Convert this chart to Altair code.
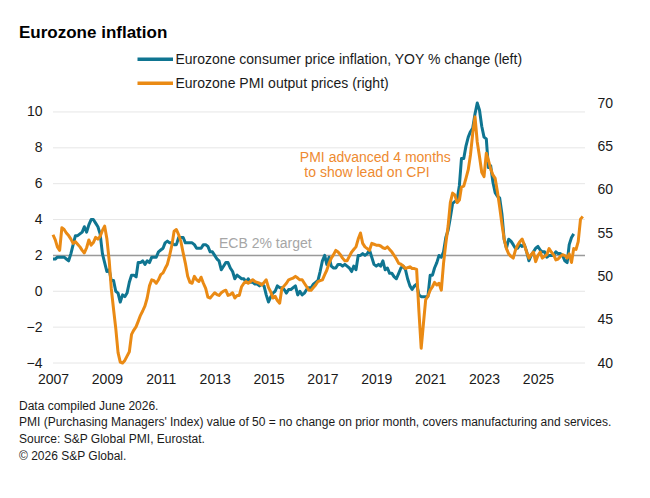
import altair as alt
import pandas as pd

# ---------------- data ----------------
cpi_label = "Eurozone consumer price inflation, YOY % change (left)"
pmi_label = "Eurozone PMI output prices (right)"

cpi_values = [
    1.8, 1.8, 1.9, 1.9, 1.9, 1.9, 1.8, 1.7, 2.1, 2.6, 3.1, 3.1,      # 2007
    3.2, 3.3, 3.6, 3.3, 3.7, 4.0, 4.0, 3.8, 3.6, 3.2, 2.1, 1.6,      # 2008
    1.1, 1.2, 0.6, 0.6, 0.0, -0.1, -0.6, -0.2, -0.3, -0.1, 0.5, 0.9, # 2009
    0.9, 0.8, 1.6, 1.6, 1.7, 1.5, 1.7, 1.6, 1.9, 1.9, 1.9, 2.2,      # 2010
    2.3, 2.4, 2.7, 2.8, 2.7, 2.7, 2.6, 2.6, 3.0, 3.0, 3.0, 2.7,      # 2011
    2.7, 2.7, 2.7, 2.6, 2.4, 2.4, 2.4, 2.6, 2.6, 2.5, 2.2, 2.2,      # 2012
    2.0, 1.8, 1.7, 1.2, 1.4, 1.6, 1.6, 1.3, 1.1, 0.7, 0.9, 0.8,      # 2013
    0.7, 0.7, 0.5, 0.7, 0.5, 0.5, 0.4, 0.4, 0.3, 0.4, 0.3, -0.2,     # 2014
    -0.6, -0.3, -0.1, 0.0, 0.3, 0.2, 0.2, 0.1, -0.1, 0.1, 0.1, 0.2,  # 2015
    0.3, -0.2, 0.0, -0.2, -0.1, 0.1, 0.2, 0.2, 0.4, 0.5, 0.6, 1.1,   # 2016
    1.7, 2.0, 1.5, 1.9, 1.4, 1.3, 1.3, 1.5, 1.5, 1.4, 1.5, 1.4,      # 2017
    1.3, 1.1, 1.4, 1.2, 2.0, 2.0, 2.1, 2.0, 2.1, 2.3, 1.9, 1.5,      # 2018
    1.4, 1.5, 1.4, 1.7, 1.2, 1.3, 1.0, 1.0, 0.8, 0.7, 1.0, 1.3,      # 2019
    1.4, 1.2, 0.7, 0.3, 0.1, 0.3, 0.4, -0.2, -0.3, -0.3, -0.3, -0.3, # 2020
    0.9, 0.9, 1.3, 1.6, 2.0, 1.9, 2.2, 3.0, 3.4, 4.1, 4.9, 5.0,      # 2021
    5.1, 5.9, 7.4, 7.4, 8.1, 8.6, 8.9, 9.1, 9.9, 10.5, 10.1, 9.2,    # 2022
    8.6, 8.5, 6.9, 7.0, 6.1, 5.5, 5.3, 5.2, 4.3, 2.9, 2.4, 2.9,      # 2023
    2.8, 2.6, 2.4, 2.4, 2.6, 2.5, 2.6, 2.2, 1.7, 2.0, 2.2, 2.4,      # 2024
    2.5, 2.3, 2.2, 2.2, 1.9, 2.0, 2.0, 2.0, 2.2, 2.1, 2.1, 2.0,      # 2025
    1.7, 1.6, 2.6, 3.0, 3.2,                                          # 2026
]

pmi_values = [
    54.8, 54.2, 53.4, 53.0, 55.6, 55.4, 55.0, 54.7, 54.3, 53.8, 54.0, 53.7,  # 2007
    53.4, 53.0, 52.7, 53.3, 54.2, 53.6, 53.9, 54.5, 54.3, 54.6, 55.3, 55.8,  # 2008
    54.3, 51.8, 48.6, 46.2, 44.0, 41.2, 40.1, 40.0, 40.3, 40.8, 41.3, 43.3,  # 2009
    43.8, 44.2, 44.8, 45.5, 46.0, 46.6, 47.5, 48.9, 49.6, 49.5, 49.2, 49.6,  # 2010
    50.2, 50.4, 50.9, 51.4, 52.4, 53.6, 55.2, 55.4, 54.8, 54.0, 52.7, 51.5,  # 2011
    50.0, 49.3, 49.2, 50.0, 49.6, 49.4, 49.9, 49.2, 48.6, 47.6, 47.5, 47.8,  # 2012
    48.1, 47.9, 47.8, 48.1, 48.3, 48.4, 47.8, 47.9, 48.1, 47.5, 47.8, 47.8,  # 2013
    48.8, 49.2, 49.4, 49.2, 49.4, 49.6, 49.4, 49.3, 49.2, 49.0, 49.3, 49.6,  # 2014
    48.7, 48.2, 47.5, 47.7, 47.2, 46.9, 48.6, 48.9, 49.2, 49.6, 49.7, 49.8,  # 2015
    50.0, 49.8, 49.6, 49.6, 49.2, 48.8, 48.4, 48.4, 48.7, 49.0, 49.4, 49.5,  # 2016
    49.6, 50.2, 50.7, 51.5, 52.1, 52.5, 53.0, 52.8, 52.5, 52.1, 51.8, 51.8,  # 2017
    52.3, 52.8, 53.1, 53.4, 54.3, 55.0, 53.8, 53.4, 53.2, 53.0, 53.8, 53.7,  # 2018
    53.6, 53.6, 53.5, 53.3, 53.2, 53.4, 53.1, 52.8, 52.4, 52.0, 51.5, 51.4,  # 2019
    51.2, 50.9, 51.0, 51.1, 50.9, 50.9, 50.8, 46.0, 41.7, 44.5, 47.3, 47.7,  # 2020
    48.4, 48.8, 49.3, 49.0, 49.2, 48.4, 51.5, 53.8, 55.8, 58.5, 59.6, 59.4,  # 2021
    58.5, 58.8, 60.3, 60.4, 61.3, 62.3, 64.0, 66.5, 68.4, 65.5, 63.8, 62.0,  # 2022
    61.5, 64.2, 63.4, 62.4, 61.7, 61.3, 59.8, 58.0, 56.0, 54.3, 53.2, 52.6,  # 2023
    52.3, 52.1, 53.0, 53.6, 54.0, 54.3, 53.6, 52.8, 52.1, 52.5, 52.8, 51.7,  # 2024
    52.4, 52.8, 52.1, 52.3, 52.5, 53.2, 52.8, 52.5, 51.9, 52.0, 52.3, 52.5,  # 2025
    52.4, 52.1, 52.6, 51.6, 53.2, 53.1, 54.0, 56.6, 56.9,                    # 2026
]

left_ticks = [-4, -2, 0, 2, 4, 6, 8, 10]
right_ticks = [40, 45, 50, 55, 60, 65, 70]
year_ticks = [2007, 2009, 2011, 2013, 2015, 2017, 2019, 2021, 2023, 2025]

title_text = "Eurozone inflation"
ecb_text = "ECB 2% target"
annot_lines = ["PMI advanced 4 months", "to show lead on CPI"]
annot_dates = ["2016-03-01T00:00:00", "2016-05-01T00:00:00"]
annot_values = [7.21, 6.35]
footnote_text = (
    "Data compiled June 2026.\n"
    "PMI (Purchasing Managers' Index) value of 50 = no change on prior month, covers manufacturing and services.\n"
    "Source: S&P Global PMI, Eurostat.\n"
    "\u00a9 2026 S&P Global."
)

# ---------------- tables ----------------
cpi_df = pd.DataFrame({
    "date": pd.date_range("2007-01-01", periods=len(cpi_values), freq="MS").strftime("%Y-%m-%dT00:00:00"),
    "value": cpi_values,
    "series": cpi_label,
})
pmi_df = pd.DataFrame({
    "date": pd.date_range("2007-01-01", periods=len(pmi_values), freq="MS").strftime("%Y-%m-%dT00:00:00"),
    "value": pmi_values,
    "series": pmi_label,
})

BLUE = "#0f7591"
ORANGE = "#ea8a14"
FONT = "Liberation Sans"
TXT = "#1a1a1a"

x_dom = [alt.DateTime(year=2007, month=1, date=1), alt.DateTime(year=2026, month=10, date=1)]
x_scale = alt.Scale(domain=x_dom)
left_scale = alt.Scale(domain=[-4, 10.5], nice=False, zero=False)
right_scale = alt.Scale(domain=[40, 70], nice=False, zero=False)
color_scale = alt.Scale(domain=[cpi_label, pmi_label], range=[BLUE, ORANGE])

x_axis = alt.Axis(
    values=[alt.DateTime(year=y, month=1, date=1) for y in year_ticks],
    format="%Y", title=None, grid=False, domain=False, ticks=False,
    labelFont=FONT, labelFontSize=14, labelColor=TXT, labelPadding=9,
    labelFlush=False, labelOverlap=False,
)
left_axis = alt.Axis(
    orient="left", values=left_ticks, title=None, grid=False,
    domain=False, ticks=False, labelFont=FONT, labelFontSize=14,
    labelColor=TXT, labelPadding=11,
)
right_axis = alt.Axis(
    orient="right", values=right_ticks, title=None, grid=False, domain=False, ticks=False,
    labelFont=FONT, labelFontSize=14, labelColor=TXT, labelPadding=12,
)

X = alt.X("date:T", scale=x_scale, axis=x_axis)
Y_LEFT = alt.Y("value:Q", scale=left_scale, axis=left_axis)
COLOR = alt.Color("series:N", scale=color_scale, legend=None)

# horizontal gridlines at the left-axis ticks
grid_rules = alt.Chart(pd.DataFrame({"value": left_ticks})).mark_rule(color="#e6e6e6", strokeWidth=1).encode(
    y=Y_LEFT,
)

cpi_line = alt.Chart(cpi_df).mark_line(strokeWidth=3, strokeJoin="round").encode(
    x=X, y=Y_LEFT, color=COLOR,
)

ecb_rule = alt.Chart(pd.DataFrame({"value": [2]})).mark_rule(color="#9a9a9a", strokeWidth=1.5).encode(
    y=Y_LEFT,
)

ecb_label = alt.Chart(pd.DataFrame({"date": ["2013-03-01T00:00:00"], "value": [2.42], "t": [ecb_text]})).mark_text(
    align="left", baseline="alphabetic", font=FONT, fontSize=14, color="#a6a6a6",
).encode(x=X, y=Y_LEFT, text="t:N")

annot = alt.Chart(pd.DataFrame({"date": annot_dates, "value": annot_values, "t": annot_lines})).mark_text(
    align="left", baseline="alphabetic", font=FONT, fontSize=14, color="#ee8a30",
).encode(x=X, y=Y_LEFT, text="t:N")

title_mark = alt.Chart(pd.DataFrame({"t": [title_text]})).mark_text(
    align="left", baseline="alphabetic", font=FONT, fontSize=17, fontWeight="bold", color="#000000",
).encode(x=alt.value(-34), y=alt.value(-65.5), text="t:N")

foot_mark = alt.Chart(pd.DataFrame({"t": [footnote_text]})).mark_text(
    align="left", baseline="alphabetic", font=FONT, fontSize=12, color=TXT,
    lineBreak="\n", lineHeight=16.8,
).encode(x=alt.value(-34), y=alt.value(306.5), text="t:N")

# legend (key lines + labels), coloured through the same colour scale
legend_df = pd.DataFrame({"series": [cpi_label, pmi_label], "row": [0, 1]})
ROW_Y = alt.Y("row:Q", scale=alt.Scale(domain=[0, 1], range=[-43.7, -19.7], nice=False, zero=False), axis=None)
legend_keys = alt.Chart(legend_df).mark_rule(strokeWidth=3.5).encode(
    x=alt.value(84.5), x2=alt.value(120), y=ROW_Y, color=COLOR,
)
legend_text = alt.Chart(legend_df).mark_text(
    align="left", baseline="middle", font=FONT, fontSize=14, color=TXT, dy=0.5,
).encode(x=alt.value(122.5), y=ROW_Y, text="series:N")

pmi_line = alt.Chart(pmi_df).mark_line(strokeWidth=3, strokeJoin="round").encode(
    x=X,
    y=alt.Y("value:Q", scale=right_scale, axis=right_axis),
    color=COLOR,
)

left_layer = alt.layer(grid_rules, ecb_rule, cpi_line, ecb_label, annot, title_mark, foot_mark)
right_layer = alt.layer(pmi_line)
legend_layer = alt.layer(legend_keys, legend_text)

chart = alt.layer(left_layer, right_layer, legend_layer).resolve_scale(y="independent").properties(
    width=532, height=260,
    autosize=alt.AutoSizeParams(type="none"),
    padding={"left": 45, "top": 95, "right": 57, "bottom": 127},
    background="white",
).configure_view(strokeWidth=0)

chart.save("out.html", embed_options={"renderer": "svg", "actions": False})
